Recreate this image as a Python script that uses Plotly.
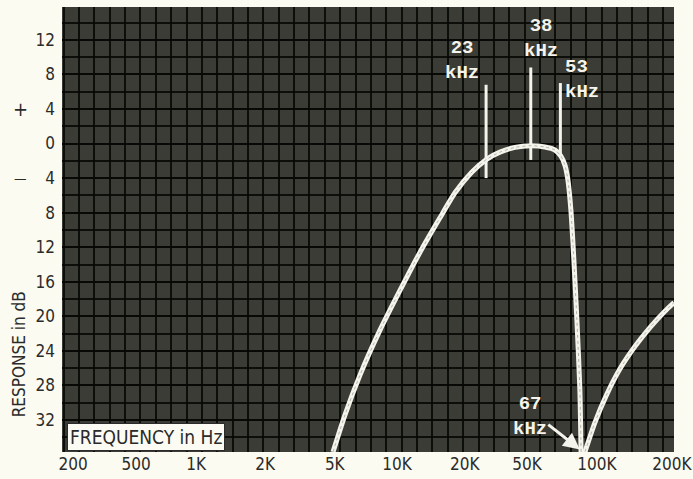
import math
import numpy as np
import plotly.graph_objects as go

# ---------------- data ----------------
# response curve of the filter, left branch down into the 67 kHz notch
left_freq_hz = [4118, 4712, 5576, 6981, 8741, 10940, 13694, 16214, 19623, 23225,
                26876, 31800, 38000, 44560, 49840, 53320, 55770, 57680, 59650,
                61690, 63810, 65990, 67000]
left_db = [-35.7, -31.4, -26.8, -21.6, -17.0, -12.6, -8.6, -5.7, -3.3, -1.8,
           -1.0, -0.45, -0.25, -0.4, -0.75, -1.45, -2.5, -4.2, -7.7,
           -13.5, -20.4, -28.5, -37.0]
# right branch, rising again after the notch
right_freq_hz = [67000, 78110, 89380, 103400, 122400, 144900, 171500, 190000]
right_db = [-37.0, -32.3, -29.0, -26.1, -23.5, -21.3, -19.4, -18.4]

# marker lines: frequency, top dB, bottom dB
marker_freq_hz = [23000, 38000, 53000]
marker_top_db = [6.8, 8.8, 7.0]
marker_bottom_db = [-4.0, -1.9, -1.3]
marker_labels = ["23<br>kHz", "38<br>kHz", "53<br>kHz"]

notch_label = "67<br>kHz"
notch_freq_hz = 66000

# axis tick labels
x_tick_text = ["200", "500", "1K", "2K", "5K", "10K", "20K", "50K", "100K", "200K"]
x_tick_hz = [222, 451, 884, 1920, 4200, 8450, 18100, 36400, 79800, 185500]
y_tick_vals = [12, 8, 4, 0, -4, -8, -12, -16, -20, -24, -28, -32]
y_tick_text = [str(abs(v)) for v in y_tick_vals]

# ---------------- figure ----------------
PAPER = "#fbfbf1"
PLOT_BG = "#3a3c35"
GRID = "rgba(8,9,6,0.9)"
CURVE = "#f4f4ec"
TEXT = "#2b2b2b"
COND = "DejaVu Sans Condensed, Liberation Sans Narrow, Arial Narrow, sans-serif"
MONO = "Liberation Mono, Courier New, monospace"

fig = go.Figure()

for fx, ft, fb in zip(marker_freq_hz, marker_top_db, marker_bottom_db):
    fig.add_trace(go.Scatter(x=[fx, fx], y=[ft, fb], mode="lines",
                             line=dict(color=CURVE, width=3),
                             hoverinfo="skip", showlegend=False))

for xs, ys in ((left_freq_hz, left_db), (right_freq_hz, right_db)):
    fig.add_trace(go.Scatter(x=xs, y=ys, mode="lines",
                             line=dict(color=CURVE, width=5, shape="spline", smoothing=0.6),
                             hoverinfo="skip", showlegend=False))
    fig.add_trace(go.Scatter(x=xs, y=ys, mode="lines",
                             line=dict(color="rgba(150,150,140,0.7)", width=1,
                                       shape="spline", smoothing=0.6, dash="dot"),
                             hoverinfo="skip", showlegend=False))

minor_x = list(10 ** np.arange(2.30, 5.28, 0.075))

fig.update_xaxes(type="log", range=[math.log10(196), math.log10(190000)],
                 tickmode="array", tickvals=x_tick_hz, ticktext=x_tick_text,
                 showgrid=False, zeroline=False, ticks="", showline=False,
                 automargin=False,
                 tickfont=dict(family=COND, size=17, color=TEXT),
                 minor=dict(tickmode="array", tickvals=minor_x, showgrid=True,
                            gridcolor=GRID, gridwidth=2, ticks=""))
fig.update_yaxes(range=[-35.7, 15.8], tickmode="array", tickvals=y_tick_vals,
                 ticktext=y_tick_text, showgrid=True, gridcolor=GRID, gridwidth=2,
                 zeroline=False, ticks="", showline=False, ticklabelstandoff=6,
                 automargin=False,
                 tickfont=dict(family=COND, size=17, color=TEXT),
                 minor=dict(dtick=2, showgrid=True, gridcolor=GRID, gridwidth=2, ticks=""))

ann = []
label_pos = [(17500, 9.6, "center"), (42600, 12.2, "center"), (54500, 7.4, "left")]
for (lx, ly, anc), txt in zip(label_pos, marker_labels):
    ann.append(dict(x=math.log10(lx), y=ly, xref="x", yref="y", text="<b>" + txt + "</b>",
                    showarrow=False, xanchor=anc, yanchor="middle", align=anc,
                    font=dict(family=MONO, size=19, color=CURVE)))
ann.append(dict(x=math.log10(37600), y=-31.6, xref="x", yref="y",
                text="<b>" + notch_label + "</b>",
                showarrow=False, xanchor="center", yanchor="middle", align="center",
                font=dict(family=MONO, size=19, color=CURVE)))
# arrow from the 67 kHz label to the notch
ann.append(dict(x=math.log10(notch_freq_hz), y=-35.4, xref="x", yref="y",
                ax=math.log10(45500), ay=-32.4, axref="x", ayref="y", text="",
                showarrow=True, arrowhead=2, arrowsize=1.1, arrowwidth=3,
                arrowcolor=CURVE))
# box label inside the plot
ann.append(dict(x=0.008, y=0.003, xref="paper", yref="paper",
                text="FREQUENCY in Hz", showarrow=False, xanchor="left", yanchor="bottom",
                bgcolor="#fbfbf4", bordercolor="#2b2b2b", borderwidth=1, borderpad=2,
                font=dict(family=COND, size=19, color=TEXT)))
# y axis title
ann.append(dict(x=-0.07, y=0.22, xref="paper", yref="paper", text="RESPONSE in dB",
                textangle=-90, showarrow=False, xanchor="center", yanchor="middle",
                font=dict(family=COND, size=17, color=TEXT)))
# plus / minus signs next to the 4 dB labels
ann.append(dict(x=-0.067, y=4, xref="paper", yref="y", text="+", showarrow=False,
                xanchor="center", yanchor="middle",
                font=dict(family=COND, size=20, color=TEXT)))
ann.append(dict(x=-0.067, y=-4, xref="paper", yref="y", text="\u2014", showarrow=False,
                xanchor="center", yanchor="middle",
                font=dict(family=COND, size=14, color=TEXT)))

fig.update_layout(width=693, height=479, paper_bgcolor=PAPER, plot_bgcolor=PLOT_BG,
                  margin=dict(l=62, r=19, t=7, b=27), annotations=ann, showlegend=False)

fig.write_html("out.html", config={"displayModeBar": False},
               post_script="document.body.style.margin='0px';"
                           "document.body.style.background='#fbfbf1';")
